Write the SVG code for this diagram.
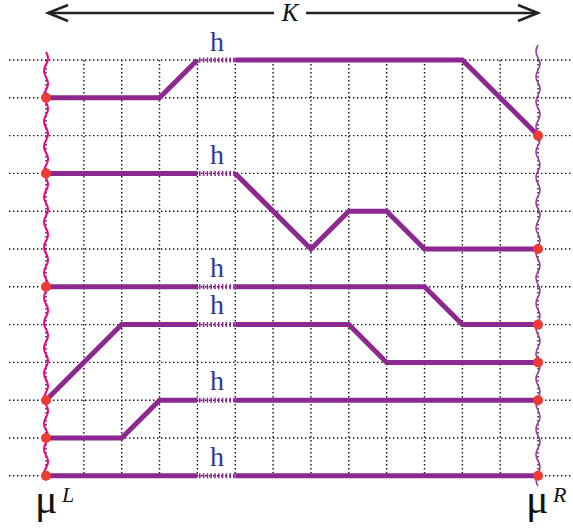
<svg xmlns="http://www.w3.org/2000/svg" width="573" height="529" viewBox="0 0 573 529">
<style>
.grid{stroke:#111;stroke-width:1.4;stroke-dasharray:1.4 2.6;fill:none}
.path{stroke:#8c2890;stroke-width:5;fill:none;stroke-linejoin:miter}
.gap{stroke:#8c2890;stroke-width:5;fill:none;stroke-dasharray:1.6 2.2}
.dot{fill:#ee3b34}
.h{font-family:"Liberation Serif",serif;font-size:28px;fill:#2e3a92;text-anchor:middle}
.mu{font-family:"Liberation Serif",serif;font-size:42px;fill:#111}
.sup{font-family:"Liberation Serif",serif;font-style:italic;font-size:22px;fill:#111}
</style>
<rect width="573" height="529" fill="#fff"/>
<g id="top-arrow">
<path d="M48,13 H274 M306,13 H538" stroke="#222" stroke-width="2.5" fill="none"/>
<path d="M68,5 L48,13 L68,21 M518,5 L538,13 L518,21" stroke="#222" stroke-width="2.5" fill="none"/>
<text x="290" y="21" font-family="Liberation Serif,serif" font-style="italic" font-size="25" fill="#111" text-anchor="middle">K</text>
</g>
<g id="grid">
<path class="grid" d="M9,60 H573 M9,97.8 H573 M9,135.6 H573 M9,173.4 H573 M9,211.2 H573 M9,249 H573 M9,286.8 H573 M9,324.6 H573 M9,362.4 H573 M9,400.2 H573 M9,438 H573 M9,475.8 H573"/>
<path class="grid" d="M46,60 V476 M83.85,60 V476 M121.7,60 V476 M159.55,60 V476 M197.4,60 V476 M235.25,60 V476 M273.1,60 V476 M310.95,60 V476 M348.8,60 V476 M386.65,60 V476 M424.5,60 V476 M462.35,60 V476 M500.2,60 V476 M538.05,60 V476"/>
</g>
<g id="wavy-left">
<path fill="none" stroke="#ec008c" stroke-width="2" d="M46,52 q4,6.3 0,12.6 t0,12.6 t0,12.6 t0,12.6 t0,12.6 t0,12.6 t0,12.6 t0,12.6 t0,12.6 t0,12.6 t0,12.6 t0,12.6 t0,12.6 t0,12.6 t0,12.6 t0,12.6 t0,12.6 t0,12.6 t0,12.6 t0,12.6 t0,12.6 t0,12.6 t0,12.6 t0,12.6 t0,12.6 t0,12.6 t0,12.6 t0,12.6 t0,12.6 t0,12.6 t0,12.6 t0,12.6 t0,12.6 t0,12.6"/>
</g>
<g id="wavy-right">
<path fill="none" stroke="#9b3aa0" stroke-width="1.6" d="M538,45 q-4,6.3 0,12.6 t0,12.6 t0,12.6 t0,12.6 t0,12.6 t0,12.6 t0,12.6 t0,12.6 t0,12.6 t0,12.6 t0,12.6 t0,12.6 t0,12.6 t0,12.6 t0,12.6 t0,12.6 t0,12.6 t0,12.6 t0,12.6 t0,12.6 t0,12.6 t0,12.6 t0,12.6 t0,12.6 t0,12.6 t0,12.6 t0,12.6 t0,12.6 t0,12.6 t0,12.6 t0,12.6 t0,12.6 t0,12.6 t0,12.6 t0,12.6"/>
</g>
<g id="connectors">
<path class="path" d="M46,97.8 H159.55 L197.4,60 M235.25,60 H462.35 L538.05,135.6"/>
<path class="gap" d="M199,60 H235.25"/>
<path class="path" d="M46,173.4 H197.4 M235.25,173.4 L310.95,249 L348.8,211.2 H386.65 L424.5,249 H538.05"/>
<path class="gap" d="M199,173.4 H235.25"/>
<path class="path" d="M46,286.8 H197.4 M235.25,286.8 H424.5 L462.35,324.6 H538.05"/>
<path class="gap" d="M199,286.8 H235.25"/>
<path class="path" d="M46,400.2 L121.7,324.6 H197.4 M235.25,324.6 H348.8 L386.65,362.4 H538.05"/>
<path class="gap" d="M199,324.6 H235.25"/>
<path class="path" d="M46,438 H121.7 L159.55,400.2 H197.4 M235.25,400.2 H538.05"/>
<path class="gap" d="M199,400.2 H235.25"/>
<path class="path" d="M46,475.8 H197.4 M235.25,475.8 H538.05"/>
<path class="gap" d="M199,475.8 H235.25"/>
</g>
<g id="endpoints">
<circle class="dot" cx="46" cy="97.8" r="5"/>
<circle class="dot" cx="46" cy="173.4" r="5"/>
<circle class="dot" cx="46" cy="286.8" r="5"/>
<circle class="dot" cx="46" cy="400.2" r="5"/>
<circle class="dot" cx="46" cy="438" r="5"/>
<circle class="dot" cx="46" cy="475.8" r="5"/>
<circle class="dot" cx="538.05" cy="135.6" r="5"/>
<circle class="dot" cx="538.05" cy="249" r="5"/>
<circle class="dot" cx="538.05" cy="324.6" r="5"/>
<circle class="dot" cx="538.05" cy="362.4" r="5"/>
<circle class="dot" cx="538.05" cy="400.2" r="5"/>
<circle class="dot" cx="538.05" cy="475.8" r="5"/>
</g>
<g id="h-labels">
<text class="h" x="217" y="51">h</text>
<text class="h" x="217" y="164">h</text>
<text class="h" x="217" y="277">h</text>
<text class="h" x="217" y="314">h</text>
<text class="h" x="217" y="390">h</text>
<text class="h" x="217" y="466">h</text>
</g>
<g id="mu-labels">
<text class="mu" x="35" y="513">μ</text>
<text class="sup" x="62" y="502">L</text>
<text class="mu" x="526" y="513">μ</text>
<text class="sup" x="553" y="502">R</text>
</g>
</svg>
